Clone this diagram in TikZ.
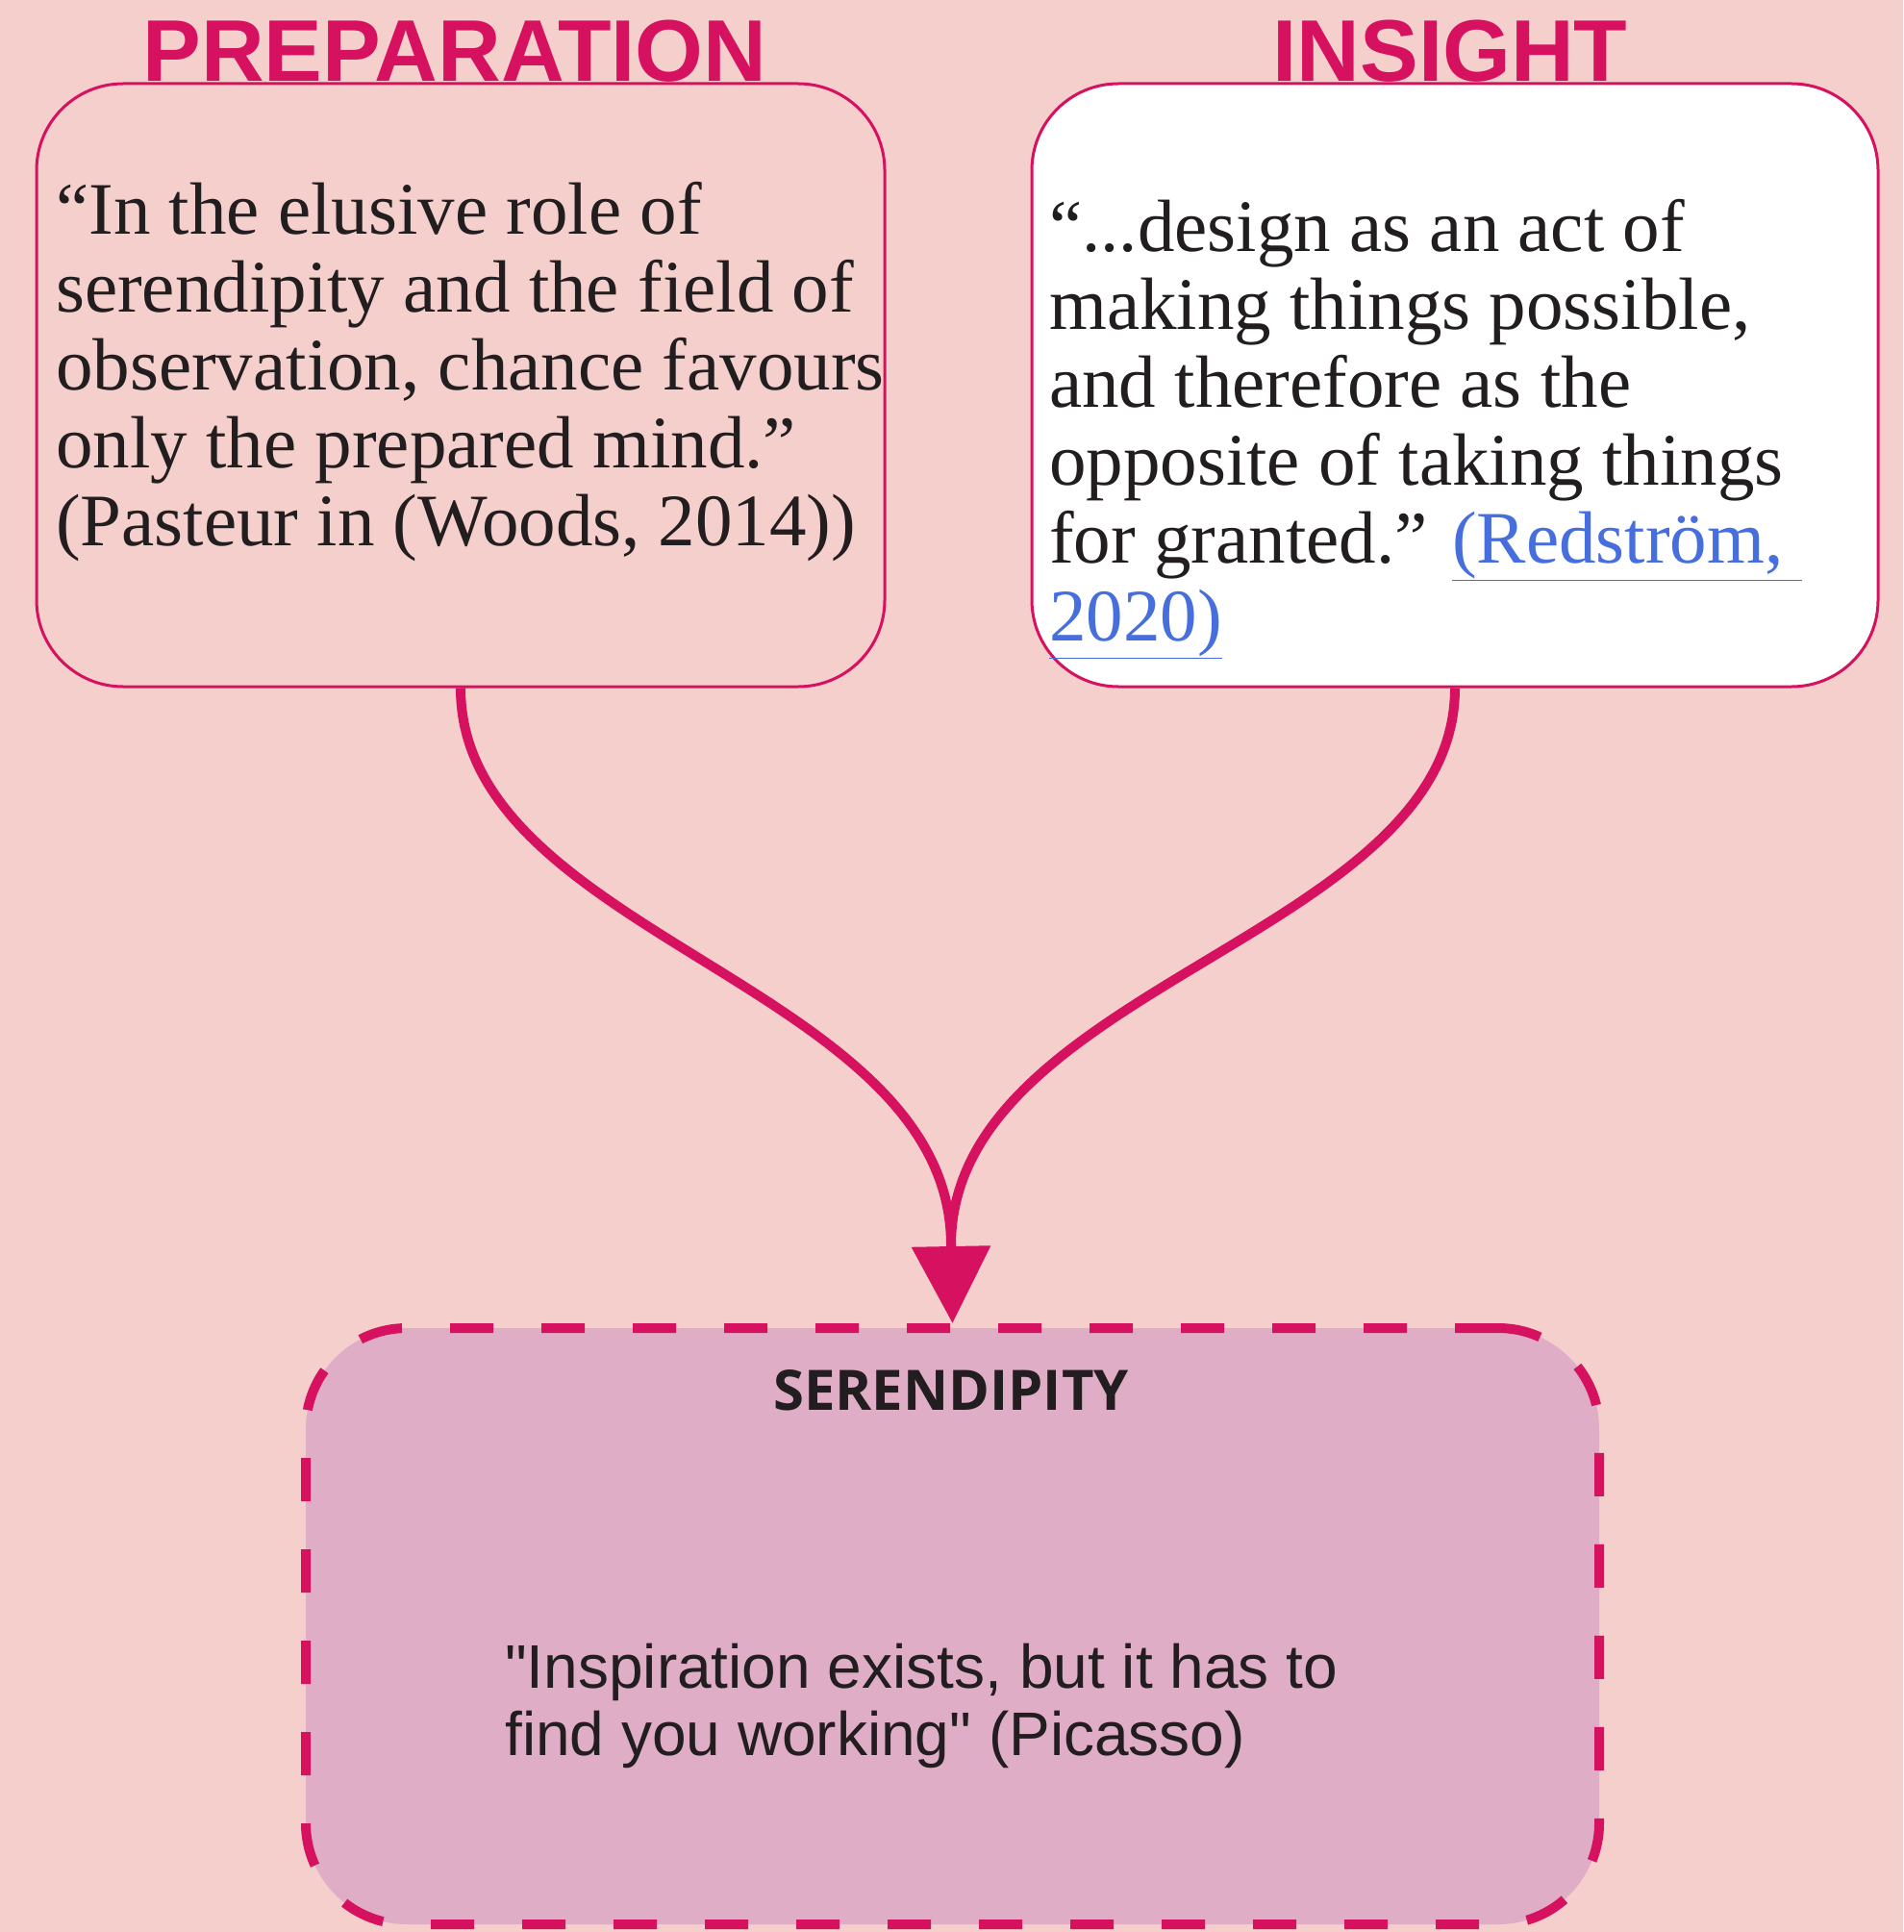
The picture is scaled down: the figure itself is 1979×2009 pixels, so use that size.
\documentclass[tikz,border=0pt]{standalone}
\usepackage{fontspec}
\setmainfont{Liberation Serif}
\newfontfamily\arialf{Liberation Sans}
\newfontfamily\opensf{Open Sans}
\usetikzlibrary{arrows.meta}
\definecolor{bgpink}{RGB}{245,207,203}
\definecolor{mag}{RGB}{214,18,96}
\definecolor{serfill}{RGB}{224,173,198}
\definecolor{txt}{RGB}{34,30,32}
\definecolor{linkblue}{RGB}{70,110,220}
\newcommand\linkul[1]{{\color{linkblue}\underline{#1}}}
\begin{document}
\begin{tikzpicture}[x=1pt,y=-1pt,
  topbox/.style={draw=mag,line width=3pt,rounded corners=90pt,inner sep=0pt},
  title/.style={text=mag,font=\arialf\bfseries\fontsize{91}{91}\selectfont,anchor=base,inner sep=0pt},
  quote/.style={text=txt,font=\fontsize{77}{81}\selectfont,align=left,anchor=base west,inner sep=0pt},
  conn/.style={draw=mag,line width=10pt}]
\useasboundingbox (0,0) rectangle (1979,2009);
\fill[bgpink] (0,0) rectangle (1979,2009);
% boxes
\node[topbox,fill=bgpink,minimum width=882pt,minimum height=627pt] (prep) at (479,400.5) {};
\node[topbox,fill=white,minimum width=880pt,minimum height=627pt] (ins) at (1513,400.5) {};
\node[draw=mag,fill=serfill,line width=10pt,dash pattern=on 45pt off 50pt,rounded corners=105pt,
      minimum width=1345pt,minimum height=620pt,inner sep=0pt] (ser) at (990.5,1691) {};
% titles
\node[title] (tprep) at (473,85) {PREPARATION};
\node[title] (tins) at (1508,85) {INSIGHT};
% quotes (anchored at the baseline of their last line)
\node[quote] (qprep) at (58,567) {``In the elusive role of\\serendipity and the field of\\observation, chance favours\\only the prepared mind.''\\(Pasteur in (Woods, 2014))};
\node[quote] (qins) at (1091,666) {``...design as an act of\\making things possible,\\and therefore as the\\opposite of taking things\\for granted.'' \linkul{(Redström,\ }\\\linkul{2020)}};
\node[text=txt,font=\opensf\bfseries\fontsize{58}{58}\selectfont,anchor=base,inner sep=0pt] (tser) at (989,1466) {SERENDIPITY};
\node[text=txt,font=\arialf\fontsize{64}{70}\selectfont,align=left,anchor=base west,inner sep=0pt] (qser) at (525,1825) {"Inspiration exists, but it has to\\find you working" (Picasso)};
% connectors
\coordinate (m) at (989,1295);
\draw[conn] (prep.south) .. controls +(0,258) and (989,1025) .. (m);
\draw[conn] (ins.south) .. controls +(0,258) and (989,1025) .. (m);
\draw[conn,-{Triangle[width=80pt,length=80pt]}] (m) -- (ser.north);
\end{tikzpicture}
\end{document}
